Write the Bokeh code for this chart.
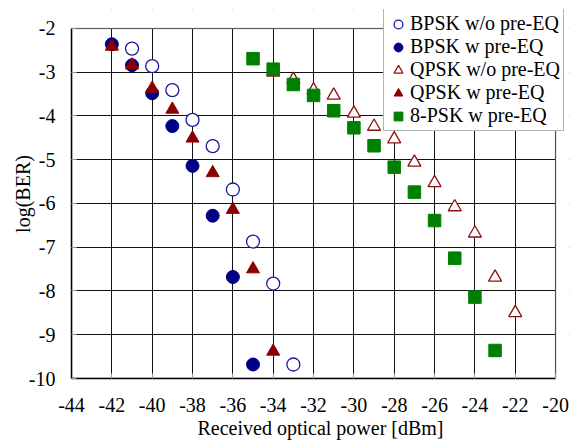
from bokeh.plotting import figure
from bokeh.models import FixedTicker, Legend, LegendItem, Range1d, BoxAnnotation
from bokeh.embed import file_html
from bokeh.resources import INLINE

# ---- data ----
x_bpsk_wo = [-41, -40, -39, -38, -37, -36, -35, -34, -33]
y_bpsk_wo = [-2.46, -2.86, -3.41, -4.09, -4.69, -5.68, -6.87, -7.83, -9.68]

x_bpsk_w = [-42, -41, -40, -39, -38, -37, -36, -35]
y_bpsk_w = [-2.36, -2.84, -3.48, -4.23, -5.14, -6.28, -7.68, -9.68]

x_qpsk_wo = [-34, -33, -32, -31, -30, -29, -28, -27, -26, -25, -24, -23, -22]
y_qpsk_wo = [-3.0, -3.17, -3.41, -3.53, -3.94, -4.24, -4.53, -5.06, -5.53, -6.08, -6.68, -7.69, -8.5]

x_qpsk_w = [-42, -41, -40, -39, -38, -37, -36, -35, -34]
y_qpsk_w = [-2.41, -2.84, -3.37, -3.85, -4.51, -5.3, -6.14, -7.5, -9.38]

x_8psk_w = [-35, -34, -33, -32, -31, -30, -29, -28, -27, -26, -25, -24, -23]
y_8psk_w = [-2.69, -2.93, -3.28, -3.53, -3.88, -4.27, -4.68, -5.17, -5.74, -6.39, -7.25, -8.14, -9.36]

x_ticks = [-44, -42, -40, -38, -36, -34, -32, -30, -28, -26, -24, -22, -20]
y_ticks = [-10, -9, -8, -7, -6, -5, -4, -3, -2]

labels = ["BPSK w/o pre-EQ", "BPSK w pre-EQ", "QPSK w/o pre-EQ", "QPSK w pre-EQ", "8-PSK w pre-EQ"]

FONT = "Liberation Serif"
X0, X1 = x_ticks[0], x_ticks[-1]
Y0, Y1 = y_ticks[0], y_ticks[-1]

# the frame is a little larger than the data box so the legend can stick out of it
p = figure(width=570, height=445, output_backend="svg", toolbar_location=None,
           x_range=Range1d(X0, X1 + 0.69), y_range=Range1d(Y0, Y1 + 0.434),
           min_border_left=71, min_border_right=1, min_border_top=9, min_border_bottom=67)

p.outline_line_color = None
p.background_fill_color = "white"
p.border_fill_color = "white"

for ax in (p.xaxis[0], p.yaxis[0]):
    ax.axis_line_color = "black"
    ax.axis_line_width = 1.5
    ax.major_tick_in = 5
    ax.major_tick_out = 0
    ax.major_tick_line_color = "#999999"
    ax.minor_tick_line_color = None
    ax.major_label_text_font = FONT
    ax.major_label_text_font_size = "20px"
    ax.major_label_text_color = "black"
    ax.axis_label_text_font = FONT
    ax.axis_label_text_font_size = "20px"
    ax.axis_label_text_font_style = "normal"
    ax.axis_label_text_color = "black"

p.xaxis.ticker = FixedTicker(ticks=x_ticks)
p.yaxis.ticker = FixedTicker(ticks=y_ticks)
p.xaxis.bounds = (X0, X1)
p.yaxis.bounds = (Y0, Y1)
p.xaxis.major_label_overrides = {t: str(t) for t in x_ticks}
p.yaxis.major_label_overrides = {t: str(t) for t in y_ticks}
p.xaxis.axis_label = "Received optical power [dBm]"
p.yaxis.axis_label = "log(BER)"
p.xaxis.major_label_standoff = 19
p.xaxis.axis_label_standoff = 2
p.yaxis.major_label_standoff = 16
p.yaxis.axis_label_standoff = -8

p.xgrid.ticker = FixedTicker(ticks=x_ticks)
p.ygrid.ticker = FixedTicker(ticks=y_ticks)
p.grid.grid_line_color = "#111111"
p.grid.grid_line_width = 1

# white cover for grid beyond the data box, then the data box border
p.add_layout(BoxAnnotation(bottom=Y1, fill_color="white", fill_alpha=1, line_alpha=0, level="underlay"))
p.add_layout(BoxAnnotation(left=X1, fill_color="white", fill_alpha=1, line_alpha=0, level="underlay"))
p.add_layout(BoxAnnotation(left=X0, right=X1, bottom=Y0, top=Y1, fill_alpha=0,
                           line_color="black", line_width=1.5, level="underlay"))

r1 = p.scatter(x_bpsk_wo, y_bpsk_wo, marker="circle", size=13,
               fill_color="white", line_color="#1a1a9c", line_width=1.3)
r2 = p.scatter(x_bpsk_w, y_bpsk_w, marker="circle", size=13,
               fill_color="#000085", line_color="#000085")
r3 = p.scatter(x_qpsk_wo, y_qpsk_wo, marker="triangle", size=13,
               fill_color="white", line_color="#8b1010", line_width=1.3)
r4 = p.scatter(x_qpsk_w, y_qpsk_w, marker="triangle", size=13,
               fill_color="#8b0000", line_color="#8b0000")
r5 = p.scatter(x_8psk_w, y_8psk_w, marker="square", size=12.5,
               fill_color="#008000", line_color="#008000")

legend = Legend(items=[LegendItem(label=l, renderers=[r]) for l, r in
                       zip(labels, [r1, r2, r3, r4, r5])],
                location=(312, 247))
legend.label_text_font = FONT
legend.label_text_font_size = "20px"
legend.label_text_color = "black"
legend.glyph_width = 22
legend.glyph_height = 22
legend.label_standoff = 1
legend.label_height = 22
legend.spacing = 0
legend.padding = 3
legend.margin = 0
legend.border_line_color = "#666666"
legend.border_line_width = 1.5
legend.background_fill_alpha = 1.0
p.add_layout(legend, "center")

open("out.html", "w").write(file_html(p, INLINE))
